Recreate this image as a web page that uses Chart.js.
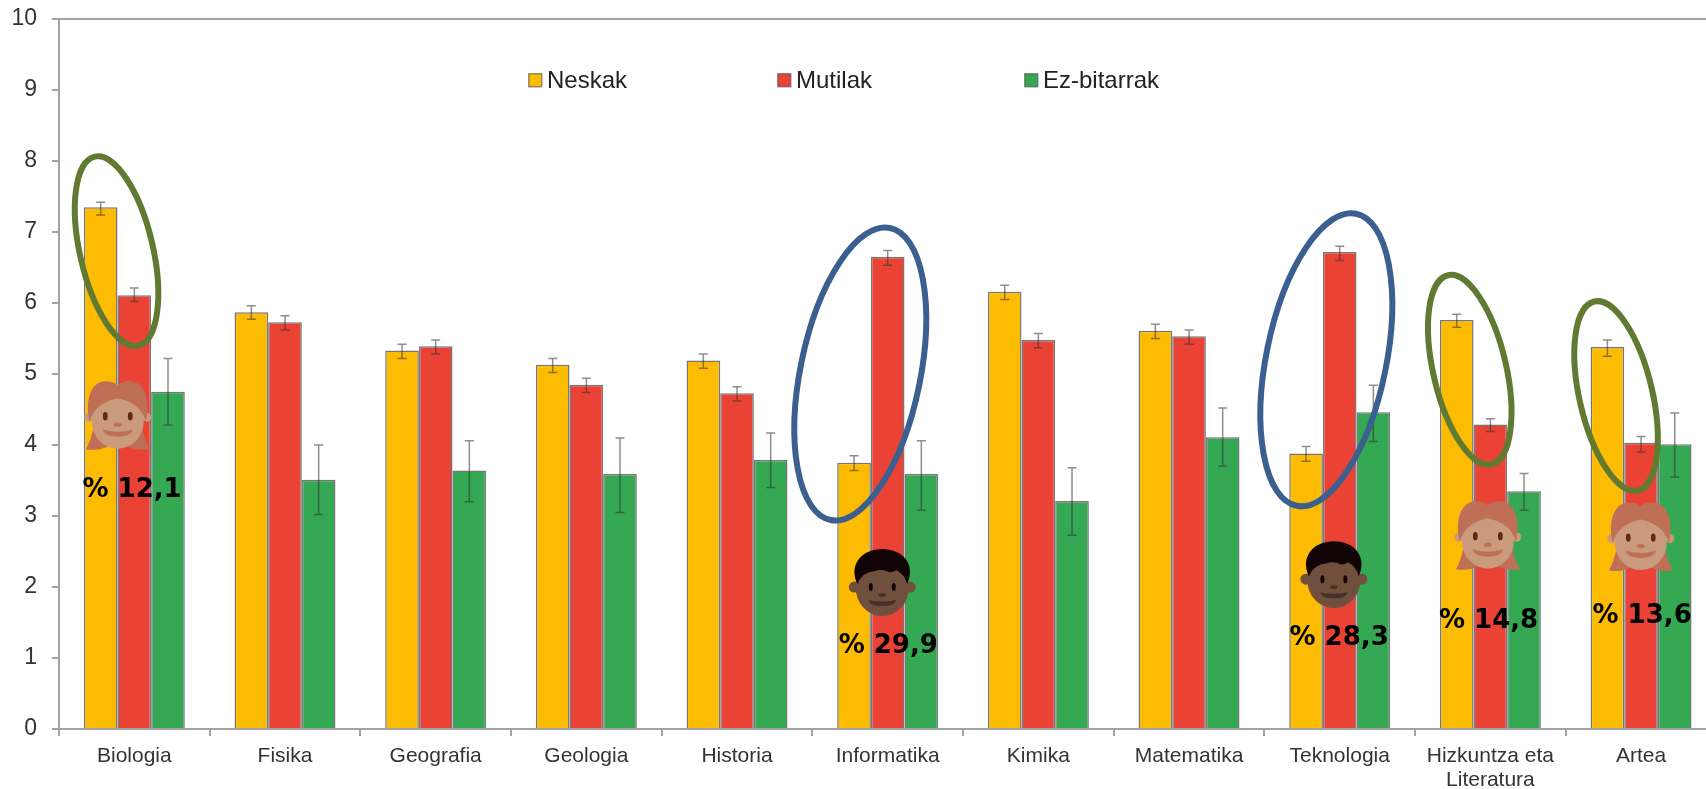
<!DOCTYPE html>
<html>
<head>
<meta charset="utf-8">
<style>
html,body{margin:0;padding:0;background:#fff;width:1706px;height:789px;overflow:hidden}
#wrap{position:absolute;left:0;top:0;width:1750px;height:789px}
</style>
<script src="https://cdn.jsdelivr.net/npm/chart.js@4/dist/chart.umd.min.js"></script>
</head>
<body>
<div id="wrap"><canvas id="c" width="1750" height="789"></canvas></div>
<script>
const categories = ["Biologia","Fisika","Geografia","Geologia","Historia","Informatika","Kimika","Matematika","Teknologia",["Hizkuntza eta","Literatura"],"Artea"];
const seriesNames = ["Neskak","Mutilak","Ez-bitarrak"];
const neskak = [7.35,5.87,5.33,5.13,5.19,3.75,6.16,5.61,3.88,5.76,5.38];
const mutilak = [6.11,5.73,5.39,4.85,4.73,6.65,5.48,5.53,6.72,4.29,4.03];
const ezBitarrak = [4.75,3.51,3.64,3.59,3.79,3.59,3.21,4.11,4.46,3.35,4.01];
const neskakLow = [7.24,5.77,5.22,5.02,5.08,3.64,6.05,5.50,3.77,5.66,5.25];
const neskakHigh = [7.42,5.96,5.42,5.22,5.28,3.85,6.25,5.70,3.98,5.84,5.48];
const mutilakLow = [6.02,5.62,5.28,4.74,4.62,6.53,5.37,5.42,6.60,4.19,3.90];
const mutilakHigh = [6.21,5.82,5.48,4.94,4.82,6.74,5.57,5.62,6.80,4.37,4.12];
const ezLow = [4.28,3.02,3.20,3.05,3.40,3.08,2.73,3.70,4.05,3.08,3.55];
const ezHigh = [5.22,4.00,4.06,4.10,4.17,4.06,3.68,4.52,4.84,3.60,4.45];
const seriesColors = ["#FDBC02","#EA4335","#34A853"];

// hand-drawn overlays, anchored on the axes: [category position, value]
const ringAnchors = [[-0.118,6.73],[4.818,5.00],[7.911,5.20],[8.863,5.06],[9.834,4.69]];
const ringKinds = ["g","b","b","g","g"];
const faceAnchors = [[-0.11,4.42],[4.964,2.07],[7.961,2.18],[8.983,2.73],[9.998,2.71]];
const faceKinds = ["girl","boy","boy","girl","girl"];
const shareLabels = ["% 12,1","% 29,9","% 28,3","% 14,8","% 13,6"];
const shareAnchors = [[-0.015,3.27],[5.004,1.07],[7.996,1.18],[8.988,1.42],[10.007,1.49]];

function drawGirl(ctx,x,y){
  ctx.save();ctx.translate(x,y);
  ctx.fillStyle="#BF6F56";
  ctx.beginPath();ctx.moveTo(-24,10);ctx.quadraticCurveTo(-26,24,-32,34);ctx.quadraticCurveTo(-18,36,-8,30);ctx.closePath();ctx.fill();
  ctx.beginPath();ctx.moveTo(24,10);ctx.quadraticCurveTo(26,24,32,34);ctx.quadraticCurveTo(18,36,8,30);ctx.closePath();ctx.fill();
  ctx.fillStyle="#C99B7C";
  ctx.beginPath();ctx.arc(-29,2,4.5,0,Math.PI*2);ctx.arc(29,2,4.5,0,Math.PI*2);ctx.fill();
  ctx.beginPath();ctx.ellipse(0,6,26,27.5,0,0,Math.PI*2);ctx.fill();
  ctx.fillStyle="#BF6F56";
  ctx.beginPath();ctx.moveTo(-28,6);
  ctx.bezierCurveTo(-33,-12,-28,-35,-11,-34);
  ctx.quadraticCurveTo(-4,-34,0,-30);
  ctx.quadraticCurveTo(4,-34,11,-34);
  ctx.bezierCurveTo(28,-35,33,-12,28,6);
  ctx.quadraticCurveTo(23,-12,0,-17);
  ctx.quadraticCurveTo(-23,-12,-28,6);
  ctx.closePath();ctx.fill();
  ctx.fillStyle="#5E2A12";
  ctx.beginPath();ctx.ellipse(-12.5,1,2.4,4.2,0,0,Math.PI*2);ctx.ellipse(12.5,1,2.4,4.2,0,0,Math.PI*2);ctx.fill();
  ctx.fillStyle="#BF6F56";
  ctx.beginPath();ctx.ellipse(0,9.5,4,2.2,0,0,Math.PI*2);ctx.fill();
  ctx.beginPath();ctx.moveTo(-15,14);ctx.quadraticCurveTo(0,19,15,14);ctx.quadraticCurveTo(14,21,0,21.5);ctx.quadraticCurveTo(-14,21,-15,14);ctx.closePath();ctx.fill();
  ctx.restore();
}
function drawBoy(ctx,x,y){
  ctx.save();ctx.translate(x,y);
  ctx.fillStyle="#70503C";
  ctx.beginPath();ctx.arc(-28,5,5.5,0,Math.PI*2);ctx.arc(28,5,5.5,0,Math.PI*2);ctx.fill();
  ctx.beginPath();ctx.ellipse(0,6,26.5,28,0,0,Math.PI*2);ctx.fill();
  ctx.fillStyle="#120406";
  ctx.beginPath();ctx.moveTo(-25,2);
  ctx.bezierCurveTo(-34,-18,-20,-33,0,-33);
  ctx.bezierCurveTo(20,-33,34,-18,25,2);
  ctx.quadraticCurveTo(22,-8,14,-12);
  ctx.quadraticCurveTo(9,-8,4,-11);
  ctx.quadraticCurveTo(-2,-13,-7,-11);
  ctx.quadraticCurveTo(-20,-10,-25,2);
  ctx.closePath();ctx.fill();
  ctx.beginPath();ctx.ellipse(-11.5,5,2,4,0,0,Math.PI*2);ctx.ellipse(11.5,5,2,4,0,0,Math.PI*2);ctx.fill();
  ctx.fillStyle="#46302A";
  ctx.beginPath();ctx.ellipse(0,13,3.6,1.9,0,0,Math.PI*2);ctx.fill();
  ctx.beginPath();ctx.moveTo(-13.5,18);ctx.quadraticCurveTo(0,21,13.5,18);ctx.quadraticCurveTo(13,24,0,24);ctx.quadraticCurveTo(-13,24,-13.5,18);ctx.closePath();ctx.fill();
  ctx.restore();
}

const overlays = {
  id:"overlays",
  afterDatasetsDraw(chart){
    const ctx = chart.ctx, xs = chart.scales.x, ys = chart.scales.y;
    // error bars
    const lows=[neskakLow,mutilakLow,ezLow], highs=[neskakHigh,mutilakHigh,ezHigh];
    ctx.save();
    ctx.strokeStyle="rgba(50,50,50,0.55)";ctx.lineWidth=1.5;
    lows.forEach((low,d)=>{
      chart.getDatasetMeta(d).data.forEach((bar,i)=>{
        const y1=ys.getPixelForValue(low[i]),y2=ys.getPixelForValue(highs[d][i]);
        ctx.beginPath();
        ctx.moveTo(bar.x,y1);ctx.lineTo(bar.x,y2);
        ctx.moveTo(bar.x-4.5,y1);ctx.lineTo(bar.x+4.5,y1);
        ctx.moveTo(bar.x-4.5,y2);ctx.lineTo(bar.x+4.5,y2);
        ctx.stroke();
      });
    });
    ctx.restore();
    // rings
    ringAnchors.forEach((a,i)=>{
      const g=ringKinds[i]==="g";
      ctx.save();
      ctx.strokeStyle=g?"#617A32":"#3B5F8F";ctx.lineWidth=6;
      const tilt=(g?13:-11.5)*Math.PI/180;
      ctx.beginPath();
      ctx.ellipse(xs.getPixelForValue(a[0]),ys.getPixelForValue(a[1]),g?97:149,g?36.5:60,Math.PI/2-tilt,0,Math.PI*2);
      ctx.stroke();ctx.restore();
    });
    // faces
    faceAnchors.forEach((a,i)=>{
      (faceKinds[i]==="girl"?drawGirl:drawBoy)(ctx,xs.getPixelForValue(a[0]),ys.getPixelForValue(a[1]));
    });
    // share labels
    ctx.save();
    ctx.fillStyle="#000";ctx.font='bold 26px "DejaVu Sans"';ctx.textAlign="center";ctx.textBaseline="alphabetic";
    shareLabels.forEach((t,i)=>{
      ctx.fillText(t,xs.getPixelForValue(shareAnchors[i][0]),ys.getPixelForValue(shareAnchors[i][1]));
    });
    ctx.restore();
    // legend
    const legendX=[528,777,1024];
    ctx.save();
    ctx.font='24px "Liberation Sans"';ctx.textAlign="left";ctx.textBaseline="middle";
    chart.data.datasets.forEach((ds,i)=>{
      ctx.fillStyle=ds.backgroundColor;ctx.strokeStyle="rgba(80,80,80,0.6)";ctx.lineWidth=1.5;
      ctx.beginPath();ctx.rect(legendX[i]+.75,73.75,13,13);ctx.fill();ctx.stroke();
      ctx.fillStyle="#222";ctx.fillText(ds.label,legendX[i]+19,81);
    });
    ctx.restore();
  }
};

const axisGray="#A3A3A3";
new Chart(document.getElementById("c"),{
  type:"bar",
  data:{labels:categories,datasets:[neskak,mutilak,ezBitarrak].map((d,i)=>({
    label:seriesNames[i],data:d,backgroundColor:seriesColors[i],
    borderColor:"rgba(60,60,60,0.7)",borderWidth:1.5,
    categoryPercentage:0.67,barPercentage:1
  }))},
  options:{
    responsive:false,animation:false,
    layout:{padding:{top:19,right:33.6,left:0,bottom:0}},
    plugins:{legend:{display:false},tooltip:{enabled:false}},
    scales:{
      x:{
        afterFit(s){s.height=60;},
        border:{color:axisGray,width:2},
        grid:{drawOnChartArea:false,color:axisGray,tickLength:7,lineWidth:2},
        ticks:{autoSkip:false,maxRotation:0,minRotation:0,color:"#333",padding:8,font:{family:"Liberation Sans",size:21,lineHeight:1.15}}
      },
      y:{
        min:0,max:10,
        afterFit(s){s.width=59;s.paddingTop=0;s.paddingBottom=0;},
        border:{color:axisGray,width:2},
        grid:{color:(c)=>c.tick&&c.tick.value===10?axisGray:"rgba(0,0,0,0)",tickColor:axisGray,tickLength:7,lineWidth:2},
        ticks:{stepSize:1,color:"#333",padding:15,font:{family:"Liberation Sans",size:23}}
      }
    }
  },
  plugins:[overlays]
});
</script>
</body>
</html>
